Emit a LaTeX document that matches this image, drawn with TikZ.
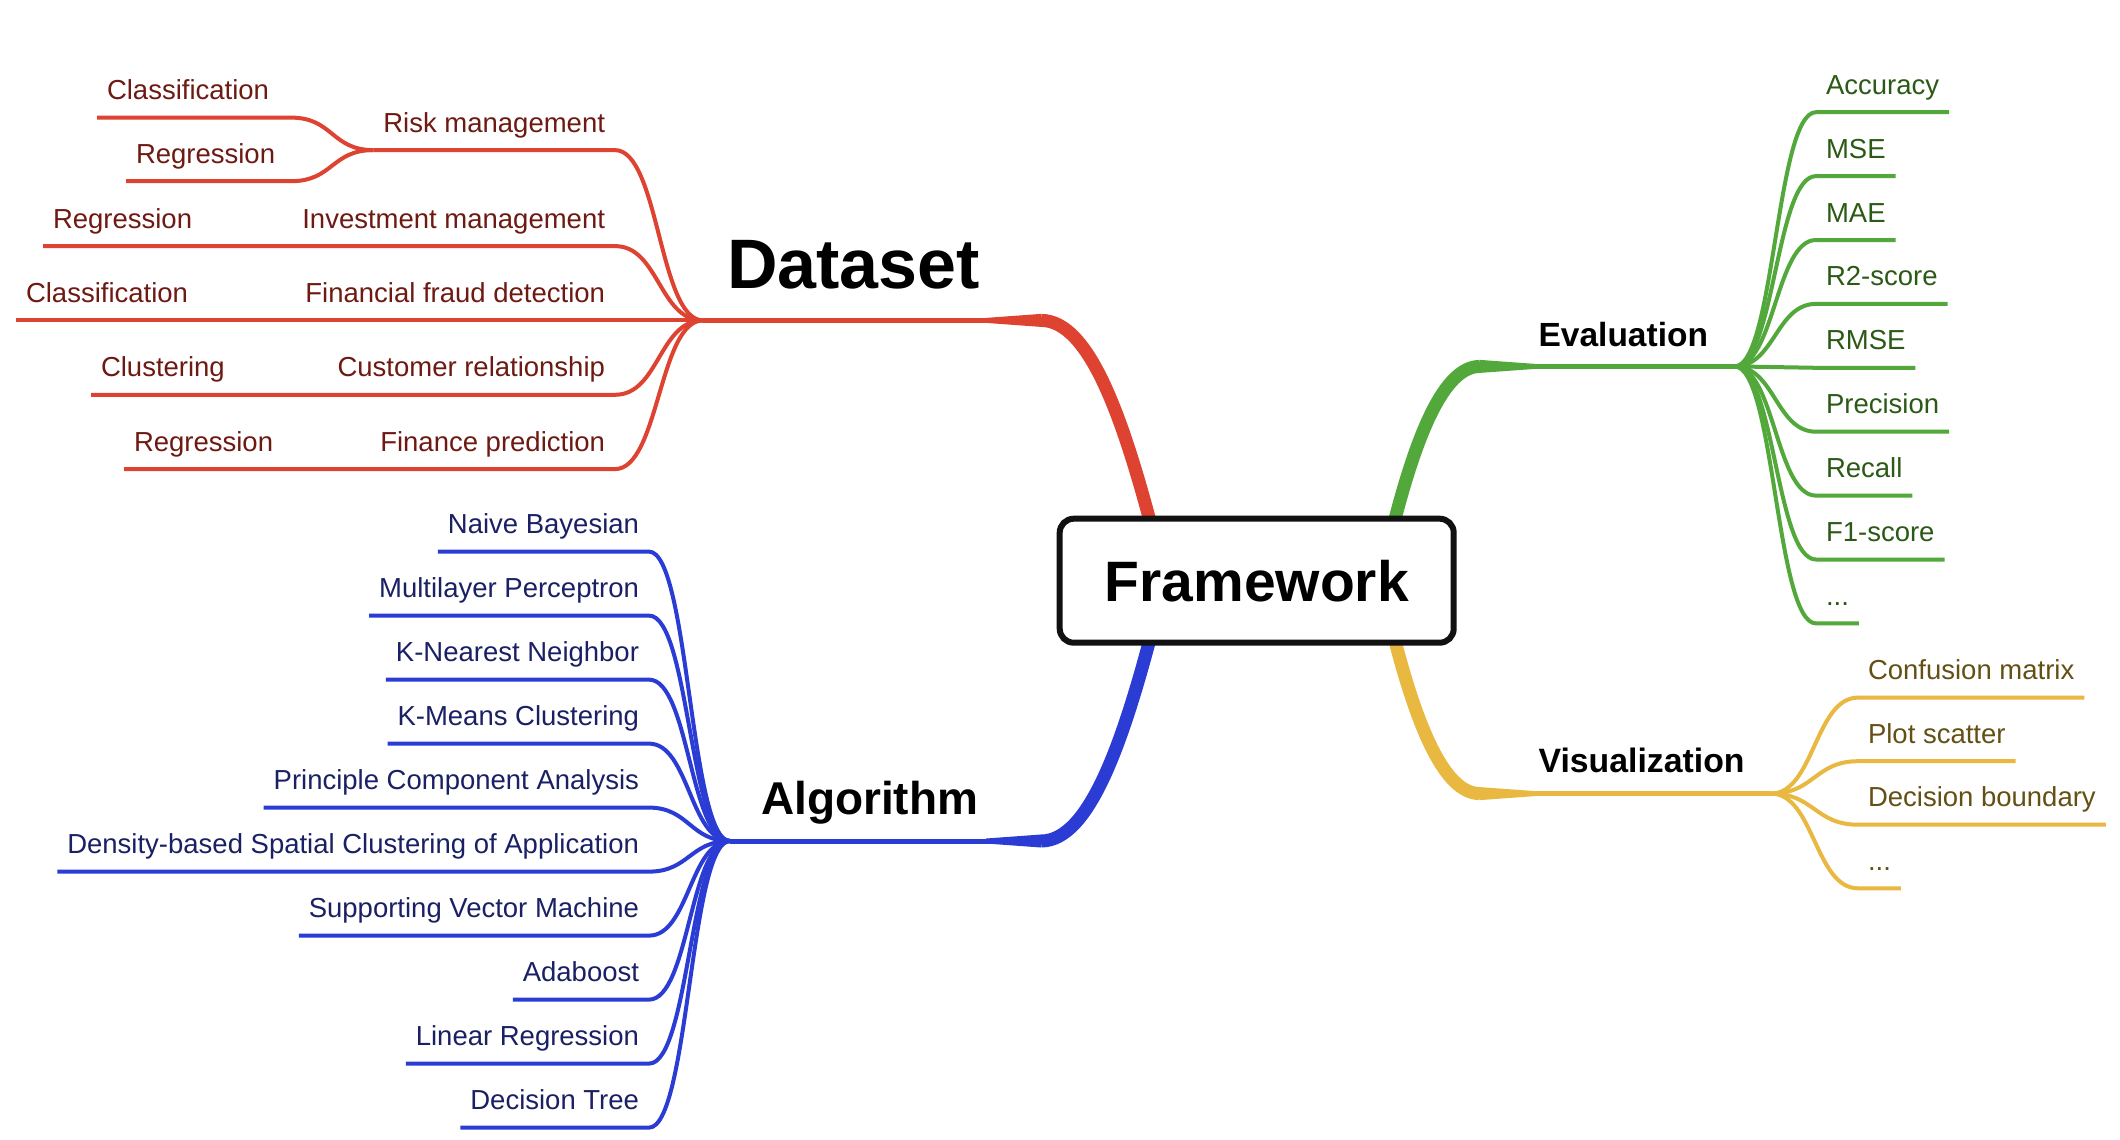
\documentclass[tikz,border=0pt]{standalone}
\usepackage{fontspec}
\setmainfont{Liberation Sans}
\usetikzlibrary{calc}
\definecolor{redline}{HTML}{DE4230}
\definecolor{redtext}{HTML}{6E1A12}
\definecolor{blueline}{HTML}{2A3CD4}
\definecolor{bluetext}{HTML}{1A2064}
\definecolor{greenline}{HTML}{52A83A}
\definecolor{greentext}{HTML}{2B5A16}
\definecolor{yellowline}{HTML}{E8B840}
\definecolor{yellowtext}{HTML}{645014}
\definecolor{boxline}{HTML}{111111}
\begin{document}
\begin{tikzpicture}[x=1pt,y=-1pt,
  leaf/.style={inner xsep=10pt, inner ysep=18pt, text depth=0pt, outer sep=0pt,
    font=\fontsize{27.5}{30}\selectfont},
  leafline/.style={line width=4pt},
  mainthin/.style={line width=5pt},
  mainthick/.style={line width=13pt},
  headtext/.style={font=\bfseries\fontsize{#1}{#1}\selectfont, inner sep=0pt, outer sep=0pt, text=black},
]
\useasboundingbox (0,0) rectangle (2120,1140);
\fill[white] (0,0) rectangle (2120,1140);

% central node position (drawn later, on top)
\coordinate (fwc) at (1256.7,580.7);

% ---------- main branches ----------
\coordinate (JD) at (703,320.4);
\coordinate (DB) at (1041,320.4);
\coordinate (JA) at (730,841);
\coordinate (AB) at (1041,841);
\coordinate (JE) at (1734.6,366.4);
\coordinate (EB) at (1480,366.4);
\coordinate (JV) at (1771,793.6);
\coordinate (VB) at (1480,793.6);

% Dataset (red)
\draw[redline,mainthick] ($(fwc)+(-96.7,-20.7)$) .. controls +(-35,-140) and +(49,0) .. (DB);
\fill[redline] (DB) ++(0,-6.5) -- ++(-55,4) -- ++(0,5) -- ++(55,4) -- cycle;
\draw[redline,mainthin] (DB) -- (JD);
% Algorithm (blue)
\draw[blueline,mainthick] ($(fwc)+(-96.7,19.3)$) .. controls +(-35,140) and +(49,0) .. (AB);
\fill[blueline] (AB) ++(0,-6.5) -- ++(-55,4) -- ++(0,5) -- ++(55,4) -- cycle;
\draw[blueline,mainthin] (AB) -- (JA);
% Evaluation (green)
\draw[greenline,mainthick] ($(fwc)+(128.3,-20.7)$) .. controls +(30,-130) and +(-35,0) .. (EB);
\fill[greenline] (EB) ++(0,-6.5) -- ++(55,4) -- ++(0,5) -- ++(-55,4) -- cycle;
\draw[greenline,mainthin] (EB) -- (JE);
% Visualization (yellow)
\draw[yellowline,mainthick] ($(fwc)+(128.3,19.3)$) .. controls +(30,130) and +(-35,0) .. (VB);
\fill[yellowline] (VB) ++(0,-6.5) -- ++(55,4) -- ++(0,5) -- ++(-55,4) -- cycle;
\draw[yellowline,mainthin] (VB) -- (JV);

% ---------- central node ----------
\node[draw=boxline, line width=6pt, rounded corners=14pt, fill=white,
  minimum width=394pt, minimum height=124pt, inner sep=0pt,
  font=\bfseries\fontsize{57}{57}\selectfont] (fw) at (fwc) {Framework};

% ---------- titles ----------
\node[headtext=70, anchor=base west] (dataset) at (727,288) {Dataset};
\node[headtext=46, anchor=base west] (algorithm) at (761,814) {Algorithm};
\node[headtext=33.5, anchor=base west] (evaluation) at (1538.6,346) {Evaluation};
\node[headtext=33.8, anchor=base west] (visualization) at (1538.6,772) {Visualization};

% ---------- Dataset leaves ----------
\begin{scope}[every node/.style={leaf, text=redtext}]
\node[anchor=south east] (risk) at (615,150.1) {Risk management};
\node[anchor=south west] (rcls) at (97,117.6) {Classification};
\node[anchor=south west] (rreg) at (126,181.2) {Regression};
\node[anchor=south east] (inv) at (615,246.1) {Investment management};
\node[anchor=south west] (ireg) at (43,246.1) {Regression};
\node[anchor=south east] (fraud) at (615,320.4) {Financial fraud detection};
\node[anchor=south west] (fcls) at (16,320.4) {Classification};
\node[anchor=south east] (cust) at (615,394.8) {Customer relationship};
\node[anchor=south west] (cclu) at (91,394.8) {Clustering};
\node[anchor=south east] (fin) at (615,469.1) {Finance prediction};
\node[anchor=south west] (freg) at (124,469.1) {Regression};
\end{scope}
\begin{scope}[redline,leafline]
\draw (rcls.south west) -- (291,117.6) .. controls +(42,0) and +(-42,0) .. (risk.south west);
\draw (rreg.south west) -- (291,181.2) .. controls +(42,0) and +(-42,0) .. (risk.south west);
\draw (risk.south west) -- (risk.south east) .. controls +(44,0) and +(-44,0) .. (JD);
\draw (ireg.south west) -- (inv.south east) .. controls +(44,0) and +(-44,0) .. (JD);
\draw (fcls.south west) -- (fraud.south east) -- (JD);
\draw (cclu.south west) -- (cust.south east) .. controls +(44,0) and +(-44,0) .. (JD);
\draw (freg.south west) -- (fin.south east) .. controls +(44,0) and +(-44,0) .. (JD);
\end{scope}

% ---------- Algorithm leaves ----------
\begin{scope}[every node/.style={leaf, text=bluetext, anchor=south east}]
\node (a1) at (649,551.6) {Naive Bayesian};
\node (a2) at (649,615.6) {Multilayer Perceptron};
\node (a3) at (649,679.6) {K-Nearest Neighbor};
\node (a4) at (649,743.6) {K-Means Clustering};
\node (a5) at (649,807.6) {Principle Component Analysis};
\node (a6) at (649,871.6) {Density-based Spatial Clustering of Application};
\node (a7) at (649,935.6) {Supporting Vector Machine};
\node (a8) at (649,999.6) {Adaboost};
\node (a9) at (649,1063.6) {Linear Regression};
\node (a10) at (649,1127.6) {Decision Tree};
\end{scope}
\begin{scope}[blueline,leafline]
\foreach \n in {a1,a2,a3,a4,a5,a6,a7,a8,a9,a10}
  \draw (\n.south west) -- (\n.south east) .. controls +(40,0) and +(-40,0) .. (JA);
\end{scope}

% ---------- Evaluation leaves ----------
\begin{scope}[every node/.style={leaf, text=greentext, anchor=south west}]
\node (e1) at (1816,112.2) {Accuracy};
\node (e2) at (1816,176.1) {MSE};
\node (e3) at (1816,240.0) {MAE};
\node (e4) at (1816,303.9) {R2-score};
\node (e5) at (1816,367.8) {RMSE};
\node (e6) at (1816,431.7) {Precision};
\node (e7) at (1816,495.6) {Recall};
\node (e8) at (1816,559.5) {F1-score};
\node (e9) at (1816,623.4) {...};
\end{scope}
\begin{scope}[greenline,leafline]
\foreach \n in {e1,e2,e3,e4,e5,e6,e7,e8,e9}
  \draw (JE) .. controls +(40,0) and +(-40,0) .. (\n.south west) -- (\n.south east);
\end{scope}

% ---------- Visualization leaves ----------
\begin{scope}[every node/.style={leaf, text=yellowtext, anchor=south west}]
\node (v1) at (1858,697.6) {Confusion matrix};
\node (v2) at (1858,761.2) {Plot scatter};
\node (v3) at (1858,824.7) {Decision boundary};
\node (v4) at (1858,888.3) {...};
\end{scope}
\begin{scope}[yellowline,leafline]
\foreach \n in {v1,v2,v3,v4}
  \draw (JV) .. controls +(43,0) and +(-43,0) .. (\n.south west) -- (\n.south east);
\end{scope}
\end{tikzpicture}
\end{document}
